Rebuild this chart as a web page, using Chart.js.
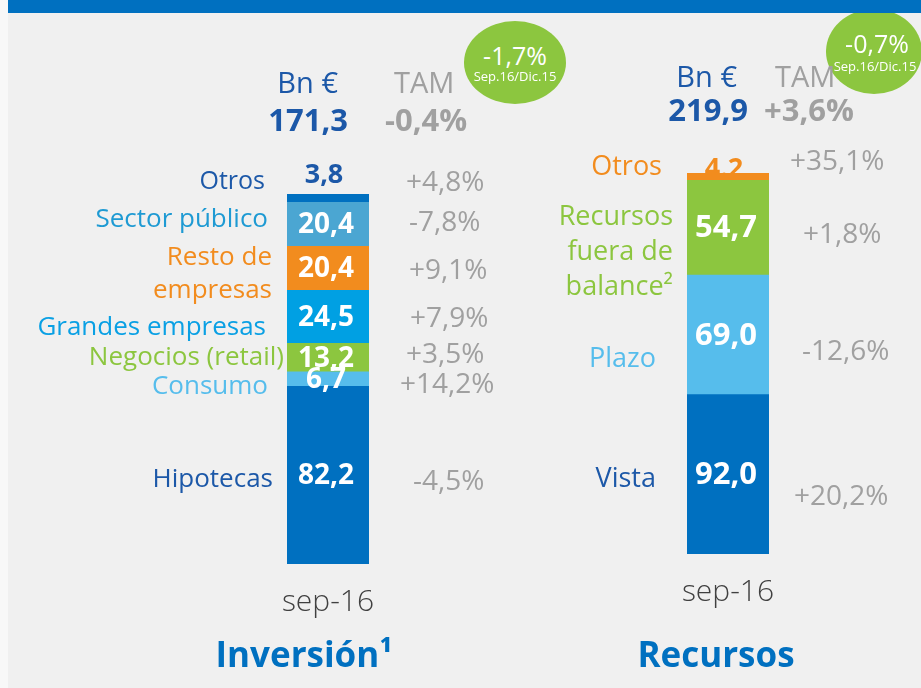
<!DOCTYPE html>
<html>
<head>
<meta charset="utf-8">
<script src="https://cdn.jsdelivr.net/npm/chart.js@4"></script>
<style>
  html, body { margin: 0; padding: 0; }
  body { width: 921px; height: 688px; background: #f8f8f8; position: relative; overflow: hidden; font-family: "Open Sans", sans-serif; }
  #panel { position: absolute; left: 8px; top: 0; width: 913px; height: 688px; background: #f0f0f0; }
  #band { position: absolute; left: 8px; top: 0; width: 913px; height: 13px; background: #0070c0; z-index: 5; }
  canvas { position: absolute; left: 0; top: 0; }
  .t { position: absolute; white-space: nowrap; line-height: 1; z-index: 3; }
  .bubble { position: absolute; background: #8cc63f; border-radius: 50%; z-index: 2; }
</style>
</head>
<body>
<div id="panel"></div>
<div class="bubble" style="left:464px;top:21px;width:102px;height:83px"></div>
<div class="bubble" style="left:826px;top:9px;width:96px;height:85px"></div>
<div id="band"></div>
<canvas id="leftChart" width="921" height="688"></canvas>
<canvas id="rightChart" width="921" height="688"></canvas>
<script>
// Inversión (bottom to top)
const leftCats = ["Hipotecas", "Consumo", "Negocios (retail)", "Grandes empresas", "Resto de empresas", "Sector público", "Otros"];
const leftValues = [82.2, 6.7, 13.2, 24.5, 20.4, 20.4, 3.8];
const leftLabels = ["82,2", "6,7", "13,2", "24,5", "20,4", "20,4", "3,8"];
const leftTam = ["-4,5%", "+14,2%", "+3,5%", "+7,9%", "+9,1%", "-7,8%", "+4,8%"];

// Recursos (bottom to top)
const rightCats = ["Vista", "Plazo", "Recursos fuera de balance²", "Otros"];
const rightValues = [92.0, 69.0, 54.7, 4.2];
const rightLabels = ["92,0", "69,0", "54,7", "4.2"];
const rightTam = ["+20,2%", "-12,6%", "+1,8%", "+35,1%"];

const period = "sep-16";

const BLUE = "#0070c0";
const DARK = "#1c58a8";
const LIGHT = "#56bdec";
const GREEN = "#8cc63f";
const ORANGE = "#f28c1e";
const GRAY = "#a0a0a0";

const leftColors = [BLUE, LIGHT, GREEN, "#00a0e3", ORANGE, "#4ba6d2", BLUE];
const rightColors = [BLUE, LIGHT, GREEN, ORANGE];

function put(text, x, base, size, color, align = "left", weight = 400) {
  const d = document.createElement("div");
  d.className = "t";
  d.textContent = text;
  d.style.fontSize = size + "px";
  d.style.color = color;
  d.style.fontWeight = weight;
  d.style.top = (base - size * 0.888) + "px";
  if (align === "right") {
    d.style.right = (921 - x) + "px";
  } else if (align === "center") {
    d.style.left = x + "px";
    d.style.transform = "translateX(-50%)";
  } else {
    d.style.left = x + "px";
  }
  document.body.appendChild(d);
}

// value labels drawn at each segment's position on the scale
const valueLabels = {
  id: "valueLabels",
  beforeDatasetsDraw(chart, args, opts) {
    if (opts.topMode === "behind") drawTop(chart, opts);
  },
  afterDatasetsDraw(chart, args, opts) {
    const ctx = chart.ctx;
    const n = chart.data.datasets.length;
    ctx.save();
    ctx.textAlign = "center";
    ctx.textBaseline = "middle";
    ctx.fillStyle = "#fff";
    ctx.font = `bold ${opts.size}px "Open Sans"`;
    for (let i = 0; i < n - 1; i++) {
      const bar = chart.getDatasetMeta(i).data[0];
      ctx.fillText(opts.labels[i], bar.x - 2, (bar.y + bar.base) / 2 + 1);
    }
    ctx.restore();
    if (opts.topMode === "above") drawTop(chart, opts);
  },
};

function drawTop(chart, opts) {
  const ctx = chart.ctx;
  const n = chart.data.datasets.length;
  const bar = chart.getDatasetMeta(n - 1).data[0];
  ctx.save();
  ctx.textAlign = "center";
  ctx.textBaseline = "alphabetic";
  ctx.fillStyle = opts.topColor;
  ctx.font = 'bold 27px "Open Sans"';
  ctx.fillText(opts.labels[n - 1], bar.x - 4, bar.y + opts.topShift);
  ctx.restore();
}

function makeChart(id, cats, values, colors, labels, padding, pluginOpts) {
  return new Chart(document.getElementById(id), {
    type: "bar",
    data: {
      labels: [period],
      datasets: cats.map((c, i) => ({
        label: c,
        data: [values[i]],
        backgroundColor: colors[i],
        borderWidth: 0,
        barPercentage: 1,
        categoryPercentage: 1,
      })),
    },
    options: {
      responsive: false,
      animation: false,
      layout: { padding },
      plugins: {
        legend: { display: false },
        tooltip: { enabled: false },
        valueLabels: Object.assign({ labels }, pluginOpts),
      },
      scales: {
        x: { stacked: true, display: false },
        y: { stacked: true, display: false, min: 0, max: values.reduce((a, b) => a + b, 0) },
      },
    },
    plugins: [valueLabels],
  });
}

makeChart("leftChart", leftCats, leftValues, leftColors, leftLabels,
  { left: 287, right: 552, top: 194, bottom: 124 },
  { size: 28, topMode: "above", topColor: DARK, topShift: -11 });

makeChart("rightChart", rightCats, rightValues, rightColors, rightLabels,
  { left: 687, right: 152, top: 173, bottom: 134 },
  { size: 31, topMode: "behind", topColor: ORANGE, topShift: 4 });

// headers
put("Bn €", 338, 93, 29, DARK, "right");
put("TAM", 394, 93, 29, GRAY);
put("171,3", 348, 132, 31, DARK, "right", 700);
put("-0,4%", 385, 132, 31, GRAY, "left", 700);
put("Bn €", 737, 87, 29, DARK, "right");
put("TAM", 775, 87, 29, GRAY);
put("219,9", 748, 122, 31, DARK, "right", 700);
put("+3,6%", 764, 122, 31, GRAY, "left", 700);

// bubbles
put("-1,7%", 515, 65, 25, "#fff", "center");
put("Sep.16/Dic.15", 515, 82, 13, "#fff", "center");
put("-0,7%", 877, 53, 25, "#fff", "center");
put("Sep.16/Dic.15", 875, 72, 13, "#fff", "center");

// Inversión category names
put(leftCats[6], 265, 189, 25, DARK, "right");
put(leftCats[5], 268, 227, 26, "#1e9ad3", "right");
put("Resto de", 272, 265, 26, ORANGE, "right");
put("empresas", 272, 298, 26, ORANGE, "right");
put(leftCats[3], 266, 335, 26, "#0aa0e4", "right");
put(leftCats[2], 284, 365, 26, GREEN, "right");
put(leftCats[1], 268, 394, 26, LIGHT, "right");
put(leftCats[0], 273, 487, 26, DARK, "right");

// Inversión TAM
put(leftTam[6], 406, 191, 28, GRAY);
put(leftTam[5], 409, 231, 28, GRAY);
put(leftTam[4], 409, 279, 28, GRAY);
put(leftTam[3], 410, 327, 28, GRAY);
put(leftTam[2], 406, 363, 28, GRAY);
put(leftTam[1], 400, 393, 28, GRAY);
put(leftTam[0], 413, 490, 28, GRAY);

// Recursos category names
put(rightCats[3], 662, 175, 27, ORANGE, "right");
put("Recursos", 673, 225, 27, GREEN, "right");
put("fuera de", 673, 260, 27, GREEN, "right");
put("balance²", 673, 295, 27, GREEN, "right");
put(rightCats[1], 656, 367, 27, LIGHT, "right");
put(rightCats[0], 656, 487, 27, DARK, "right");

// Recursos TAM
put(rightTam[3], 790, 170, 28, GRAY);
put(rightTam[2], 803, 243, 28, GRAY);
put(rightTam[1], 802, 360, 28, GRAY);
put(rightTam[0], 794, 505, 28, GRAY);

// period and titles
put(period, 328, 612, 30, "#404040", "center", 300);
put(period, 728, 602, 30, "#404040", "center", 300);
put("Inversión¹", 304, 667, 35, BLUE, "center", 700);
put("Recursos", 716, 667, 35, BLUE, "center", 700);
</script>
</body>
</html>
